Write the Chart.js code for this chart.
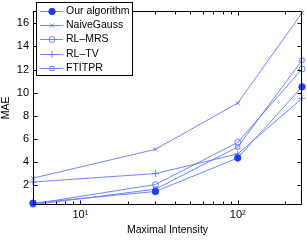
<!DOCTYPE html>
<html><head><meta charset="utf-8">
<script src="https://cdn.jsdelivr.net/npm/chart.js@4"></script>
<style>html,body{margin:0;padding:0;background:#fff}#wrap{width:307px;height:240px}</style>
</head><body><div id="wrap"><canvas id="c" width="307" height="240"></canvas></div>
<script>
const intensities = [5, 30, 100, 256];
const ourAlgorithm = [0.45, 1.45, 4.35, 10.5];
const naiveGauss = [2.6, 5.1, 9.1, 16.9];
const rlMRS = [0.38, 2.05, 5.7, 12.05];
const rlTV = [2.27, 3.0, 4.7, 9.5];
const ftitpr = [0.3, 1.65, 5.3, 12.8];
const seriesNames = ['Our algorithm', 'NaiveGauss', 'RL\u2013MRS', 'RL\u2013TV', 'FTITPR'];
const yTicks = [2, 4, 6, 8, 10, 12, 14, 16];
const xMajor = [10, 100];
const xMinor = [5, 6, 7, 8, 9, 20, 30, 40, 50, 60, 70, 80, 90, 200];

const LINE = 'rgba(95,120,255,0.9)';
const DARK = '#1f3dff';
const FONT = '"Liberation Sans", Arial, Helvetica, sans-serif';

function mk(label, vals, style, fill, r) {
  return {
    label, data: intensities.map((x, i) => ({x, y: vals[i]})),
    borderColor: LINE, borderWidth: 1,
    pointStyle: style, pointRadius: r,
    pointBorderColor: fill ? DARK : LINE, pointBorderWidth: 1,
    pointBackgroundColor: fill ? DARK : 'rgba(0,0,0,0)',
    tension: 0, clip: false
  };
}
const datasets = [
  mk(seriesNames[0], ourAlgorithm, 'circle', true, 3.2),
  mk(seriesNames[1], naiveGauss, 'crossRot', false, 3),
  mk(seriesNames[2], rlMRS, 'circle', false, 3),
  mk(seriesNames[3], rlTV, 'cross', false, 3.5),
  mk(seriesNames[4], ftitpr, 'rect', false, 3)
];

const frame = {
  id: 'frame',
  afterDraw(chart) {
    const ctx = chart.ctx, a = chart.chartArea;
    const xs = chart.scales.x, ys = chart.scales.y;
    ctx.save();
    ctx.strokeStyle = '#000'; ctx.lineWidth = 1;
    const L = Math.round(a.left) + 0.5, R = Math.round(a.right) - 0.5, T = Math.round(a.top) + 0.5, B = Math.round(a.bottom) - 0.5;
    ctx.strokeRect(L, T, R - L, B - T);
    ctx.beginPath();
    xMajor.concat(xMinor).forEach(v => {
      const px = Math.round(xs.getPixelForValue(v)) + 0.5;
      const len = xMajor.includes(v) ? 4 : 3;
      ctx.moveTo(px, B); ctx.lineTo(px, B - len);
      ctx.moveTo(px, T); ctx.lineTo(px, T + len);
    });
    yTicks.forEach(v => {
      const py = Math.round(ys.getPixelForValue(v)) + 0.5;
      ctx.moveTo(L, py); ctx.lineTo(L + 4, py);
      ctx.moveTo(R, py); ctx.lineTo(R - 4, py);
    });
    ctx.stroke();

    // legend
    const bx = 36.5, by = 2.5, bw = 96, bh = 73;
    ctx.fillStyle = '#fff';
    ctx.fillRect(bx, by, bw, bh);
    ctx.strokeRect(bx, by, bw, bh);
    ctx.font = '10.5px ' + FONT;
    ctx.textBaseline = 'middle';
    chart.data.datasets.forEach((ds, i) => {
      const y = Math.round(11 + i * 14.2) + 0.5;
      ctx.strokeStyle = LINE; ctx.lineWidth = 1;
      ctx.beginPath(); ctx.moveTo(40, y); ctx.lineTo(63, y); ctx.stroke();
      ctx.fillStyle = ds.pointBackgroundColor; ctx.strokeStyle = ds.pointBorderColor;
      Chart.helpers.drawPoint(ctx, {pointStyle: ds.pointStyle, radius: ds.pointRadius, borderWidth: 1, rotation: 0}, 52, y);
      ctx.fillStyle = '#000';
      ctx.fillText(ds.label, 66, y);
    });
    ctx.restore();
  }
};

new Chart(document.getElementById('c'), {
  type: 'line',
  data: {datasets},
  options: {
    responsive: false, animation: false, devicePixelRatio: 1,
    layout: {padding: {top: 0, right: 1, left: 0, bottom: 4}},
    plugins: {legend: {display: false}, tooltip: {enabled: false}},
    scales: {
      x: {
        type: 'logarithmic', min: 5, max: 256,
        afterBuildTicks: s => { s.ticks = xMajor.concat(xMinor).sort((a, b) => a - b).map(v => ({value: v})); },
        afterFit: s => { s.height = 31; },
        grid: {display: false, drawTicks: false},
        border: {display: false},
        ticks: {
          autoSkip: false, maxRotation: 0, padding: 3, color: '#000',
          font: {family: FONT, size: 11},
          callback: v => v === 10 ? '10\u00b9' : (v === 100 ? '10\u00b2' : '')
        },
        title: {display: true, text: 'Maximal Intensity', color: '#000', font: {family: FONT, size: 10.5}, padding: {top: 0, bottom: 0}}
      },
      y: {
        min: 0.28, max: 17.1,
        afterBuildTicks: s => { s.ticks = yTicks.map(v => ({value: v})); },
        afterFit: s => { s.width = 33; },
        grid: {display: false, drawTicks: false},
        border: {display: false},
        ticks: {padding: 4, color: '#000', font: {family: FONT, size: 11}},
        title: {display: true, text: 'MAE', color: '#000', font: {family: FONT, size: 10.5}, padding: {top: 0, bottom: 2}}
      }
    }
  },
  plugins: [frame]
});
</script></body></html>
